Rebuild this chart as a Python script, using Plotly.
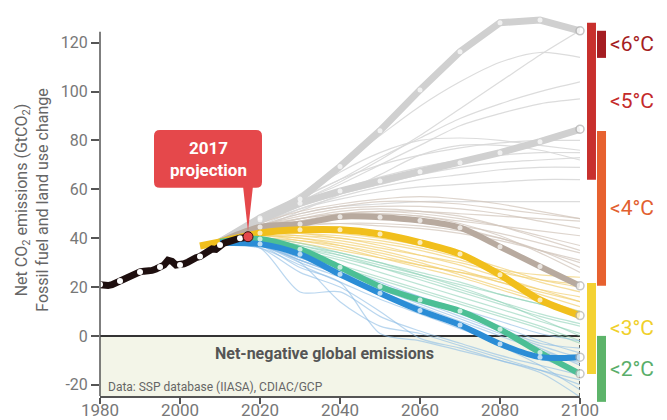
import plotly.graph_objects as go

# ---------------- data ----------------
hist_years = list(range(1980, 2018))
hist_vals = [21.0, 20.7, 20.6, 21.0, 21.8, 22.5, 23.3, 24.0, 25.0, 25.6,
             26.2, 26.5, 26.4, 26.8, 27.4, 28.2, 29.0, 31.0, 30.5, 29.0,
             29.0, 29.5, 30.2, 31.5, 32.0, 32.5, 33.8, 35.0, 35.6, 35.4,
             37.2, 38.0, 38.5, 39.2, 39.6, 40.0, 40.2, 40.6]
hist_dot_years = [1980, 1985, 1990, 1995, 2000, 2005, 2010, 2015]
hist_dot_vals = [21.0, 22.5, 26.2, 28.2, 29.0, 32.5, 37.2, 40.0]
proj_year = 2017
proj_val = 40.6

proj_years = [2005, 2010, 2020, 2030, 2040, 2050, 2060, 2070, 2080, 2090, 2100]
grey_high = [None, 38.5, 48.3, 56.0, 69.3, 84.0, 100.7, 116.3, 128.2, 129.3, 124.9]
grey_mid = [None, 38.5, 47.5, 54.3, 59.3, 63.4, 67.2, 70.9, 75.0, 79.5, 84.6]
taupe = [None, 38.5, 44.6, 45.8, 48.8, 48.6, 47.2, 44.3, 36.5, 28.4, 20.5]
yellow = [36.8, 38.5, 42.1, 43.4, 43.4, 41.7, 38.2, 33.5, 25.0, 14.7, 8.3]
green = [None, 38.5, 39.7, 35.5, 28.1, 20.2, 14.7, 10.2, 2.7, -6.8, -15.5]
blue = [None, 38.0, 37.6, 33.4, 25.2, 17.5, 10.4, 4.5, -3.3, -8.7, -8.7]

thin_years = [2010, 2020, 2030, 2040, 2050, 2060, 2070, 2080, 2090, 2100]
thin_grey = [
    [38, 47, 55, 63, 72, 82, 93, 104, 115, 125],
    [38, 48, 58, 70, 82, 94, 104, 112, 116, 114],
    [38, 47, 56, 64, 73, 81, 89, 95, 100, 104],
    [38, 46, 55, 62, 70, 78, 86, 91, 95, 97],
    [38, 47, 54, 60, 65, 69, 72, 74, 75, 75],
    [38, 46, 53, 58, 62, 66, 69, 71, 72, 73],
    [38, 45, 52, 57, 61, 64, 66, 68, 69, 69],
    [38, 46, 52, 56, 59, 61, 62, 63, 64, 64],
    [38, 45, 50, 53, 54, 55, 55, 55, 55, 55],
    [38, 47, 57, 67, 75, 80, 81, 80, 78, 76],
    [38, 46, 56, 64, 70, 74, 77, 79, 80, 80],
    [38, 44, 51, 58, 66, 74, 78, 78, 76, 72],
]
thin_taupe = [
    [38, 44, 48, 50, 51, 51, 50, 49, 48, 47],
    [38, 45, 49, 52, 53, 53, 52, 50, 47, 44],
    [38, 44, 47, 49, 50, 49, 47, 45, 43, 41],
    [38, 43, 47, 50, 51, 50, 48, 45, 41, 37],
    [38, 45, 50, 53, 55, 55, 54, 52, 50, 48],
    [38, 44, 47, 48, 48, 47, 45, 42, 38, 34],
    [38, 43, 46, 48, 48, 47, 44, 40, 35, 30],
    [38, 44, 48, 51, 52, 51, 49, 45, 40, 35],
    [38, 43, 45, 46, 46, 45, 43, 40, 35, 28],
    [38, 45, 48, 50, 50, 49, 46, 41, 34, 26],
    [38, 44, 46, 46, 45, 44, 42, 39, 35, 31],
    [38, 46, 51, 54, 56, 57, 56, 54, 51, 48],
]
thin_yellow = [
    [38, 42, 42, 41, 39, 36, 32, 27, 22, 18],
    [38, 41, 41, 40, 37, 33, 29, 24, 19, 14],
    [38, 42, 43, 42, 40, 37, 33, 28, 23, 20],
    [38, 41, 40, 38, 35, 31, 27, 22, 17, 12],
    [38, 40, 39, 37, 34, 30, 25, 20, 15, 10],
    [38, 42, 41, 39, 36, 33, 30, 26, 23, 21],
    [38, 41, 39, 36, 32, 28, 24, 19, 14, 9],
    [38, 40, 38, 35, 32, 29, 26, 22, 18, 14],
    [38, 42, 42, 40, 38, 35, 31, 27, 25, 24],
    [38, 41, 40, 37, 33, 29, 26, 23, 19, 16],
]
thin_green = [
    [38, 40, 37, 33, 28, 23, 18, 13, 8, 4],
    [38, 39, 35, 31, 26, 21, 16, 11, 6, 1],
    [38, 40, 38, 34, 30, 26, 22, 17, 13, 9],
    [38, 39, 34, 29, 24, 19, 14, 9, 4, -2],
    [38, 40, 36, 32, 28, 24, 19, 14, 9, 5],
    [38, 39, 36, 33, 29, 25, 21, 17, 13, 10],
    [38, 38, 33, 28, 23, 18, 13, 8, 3, -3],
    [38, 40, 37, 34, 30, 25, 20, 14, 7, 0],
]
thin_blue = [
    [38, 37, 30, 24, 18, 12, 6, 0, -6, -11],
    [38, 38, 32, 26, 20, 14, 8, 2, -4, -9],
    [38, 36, 18, 18, 8, 2, -3, -8, -12, -16],
    [38, 37, 28, 22, 1, -2, -6, -10, -14, -18],
    [38, 38, 33, 28, 22, 16, 10, 4, -2, -7],
    [38, 37, 31, 25, 19, 13, 7, 1, -5, -12],
    [38, 36, 29, 22, 15, 9, 3, -3, -9, -15],
    [38, 37, 30, 14, 4, 1, -4, -9, -14, -20],
    [38, 38, 31, 25, 18, 11, 4, -4, -12, -22],
    [38, 37, 32, 27, 21, 15, 9, 3, -3, -5],
    [38, 36, 26, 20, 10, -1, -5, -10, -15, -25],
    [38, 37, 31, 26, 21, 16, 11, 6, 1, -2],
]

x_tick_vals = [1980, 2000, 2020, 2040, 2060, 2080, 2100]
x_tick_text = ["1980", "2000", "2020", "2040", "2060", "2080", "2100"]
y_tick_vals = [-20, 0, 20, 40, 60, 80, 100, 120]
y_tick_text = ["-20", "0", "20", "40", "60", "80", "100", "120"]

band_labels = ["<6°C", "<5°C", "<4°C", "<3°C", "<2°C"]
band_low = [113.8, 63.9, 20.5, -15.6, -27.0]
band_high = [124.9, 128.2, 83.9, 21.7, 0.0]

# ---------------- styles ----------------
X0, X1 = 1980, 2100
Y0, Y1 = -24.6, 133.4
FONT = "Roboto, 'Liberation Sans', Arial, sans-serif"
band_colors = ["#a51d22", "#c8302d", "#e7612f", "#f4d233", "#5db46a"]
band_label_colors = ["#a51d22", "#c42a2a", "#e2602f", "#f0d02a", "#5aae6a"]
band_column = [1, 0, 1, 0, 1]
col_x = [(1.0146, 1.0333), (1.0354, 1.0542)]

fig = go.Figure()

def add_line(xs, ys, color, width, shape="spline", opacity=1.0):
    fig.add_trace(go.Scatter(x=xs, y=ys, mode="lines",
                             line=dict(color=color, width=width, shape=shape, smoothing=0.8),
                             opacity=opacity, hoverinfo="skip", showlegend=False))

for s in thin_grey:
    add_line(thin_years, s, "#d9d9d9", 1.2, opacity=0.9)
for s in thin_taupe:
    add_line(thin_years, s, "#d3c7bd", 1.2, opacity=0.75)
for s in thin_yellow:
    add_line(thin_years, s, "#f3d173", 1.2, opacity=0.7)
for s in thin_green:
    add_line(thin_years, s, "#8fd3b8", 1.2, opacity=0.6)
for s in thin_blue:
    add_line(thin_years, s, "#8dbde6", 1.2, opacity=0.6)

thick = [
    (grey_high, "#d0d0d0", 7, "linear"),
    (grey_mid, "#d0d0d0", 7, "linear"),
    (taupe, "#b8aa9f", 6, "spline"),
    (yellow, "#f1bf1c", 7, "spline"),
    (green, "#4cbf95", 6, "spline"),
    (blue, "#2b8dd6", 6, "spline"),
]
for vals, col, w, sh in thick:
    add_line(proj_years, vals, col, w, shape=sh)

# markers on thick lines
for vals, col, w, sh in thick:
    xs = proj_years[2:]
    ys = vals[2:]
    sizes = [5] * (len(xs) - 1) + [8]
    lw = [0] * (len(xs) - 1) + [1.5]
    fig.add_trace(go.Scatter(x=xs, y=ys, mode="markers", cliponaxis=False,
                             marker=dict(color="white", size=sizes,
                                         line=dict(color="#b0b0b0", width=lw)),
                             hoverinfo="skip", showlegend=False))

# historical
fig.add_trace(go.Scatter(x=hist_years, y=hist_vals, mode="lines",
                         line=dict(color="#1e0f0f", width=7),
                         hoverinfo="skip", showlegend=False))
fig.add_trace(go.Scatter(x=hist_dot_years, y=hist_dot_vals, mode="markers", cliponaxis=False,
                         marker=dict(color="white", size=6),
                         hoverinfo="skip", showlegend=False))
fig.add_trace(go.Scatter(x=[proj_year], y=[proj_val], mode="markers",
                         marker=dict(color="#e4484b", size=10, line=dict(color="#3a1010", width=1)),
                         hoverinfo="skip", showlegend=False))

shapes = []
# net-negative region
shapes.append(dict(type="rect", xref="x", yref="y", x0=X0, x1=X1, y0=Y0, y1=0,
                   fillcolor="#f3f5e8", line=dict(width=0), layer="below"))
shapes.append(dict(type="line", xref="x", yref="y", x0=X0, x1=X1, y0=0, y1=0,
                   line=dict(color="#333333", width=2), layer="below"))
shapes.append(dict(type="line", xref="x", yref="y", x0=X1, x1=X1, y0=Y0, y1=0,
                   line=dict(color="#333333", width=1.5, dash="dot"), layer="below"))
# y axis line
shapes.append(dict(type="line", xref="paper", yref="y", x0=0, x1=0, y0=Y0, y1=124.5,
                   line=dict(color="#555555", width=1.5)))

# callout box with pointer (data coords)
bx0, bx1, by0, by1 = 1993.5, 2020.5, 60.6, 84.3
rx, ry = 1.5, 2.4
pl, pr, tipx, tipy = 2015.8, 2018.2, 2017.0, 42.8
path = (f"M {bx0+rx},{by1} L {bx1-rx},{by1} Q {bx1},{by1} {bx1},{by1-ry} "
        f"L {bx1},{by0+ry} Q {bx1},{by0} {bx1-rx},{by0} L {pr},{by0} L {tipx},{tipy} "
        f"L {pl},{by0} L {bx0+rx},{by0} Q {bx0},{by0} {bx0},{by0+ry} "
        f"L {bx0},{by1-ry} Q {bx0},{by1} {bx0+rx},{by1} Z")
shapes.append(dict(type="path", xref="x", yref="y", path=path,
                   fillcolor="#e5484b", line=dict(width=0), layer="above"))

# temperature bands
def to_paper(v):
    return (v - Y0) / (Y1 - Y0)

annotations = []
for lab, lo, hi, col, lcol, c in zip(band_labels, band_low, band_high,
                                     band_colors, band_label_colors, band_column):
    xa, xb = col_x[c]
    shapes.append(dict(type="rect", xref="paper", yref="paper", x0=xa, x1=xb,
                       y0=to_paper(lo), y1=to_paper(hi), fillcolor=col, line=dict(width=0)))
    annotations.append(dict(xref="paper", yref="paper", x=1.058, y=to_paper((lo + hi) / 2),
                            text=lab, showarrow=False, xanchor="left", yanchor="middle",
                            font=dict(family=FONT, size=21, color=lcol)))

annotations.append(dict(xref="x", yref="y", x=2007, y=72.5,
                        text="<b>2017<br>projection</b>", showarrow=False,
                        font=dict(family=FONT, size=17, color="white")))
annotations.append(dict(xref="x", yref="y", x=2036.2, y=-7,
                        text="<b>Net-negative global emissions</b>", showarrow=False,
                        font=dict(family=FONT, size=16, color="#555555")))
annotations.append(dict(xref="x", yref="y", x=1981.5, y=-21,
                        text="Data: SSP database (IIASA), CDIAC/GCP", showarrow=False,
                        xanchor="left", font=dict(family=FONT, size=12, color="#666666")))
annotations.append(dict(xref="paper", yref="paper", x=-0.142, y=0.508,
                        text="Net CO<sub>2</sub> emissions (GtCO<sub>2</sub>)<br>Fossil fuel and land use change",
                        showarrow=False, textangle=-90, xanchor="center", yanchor="middle",
                        font=dict(family=FONT, size=16, color="#666666")))

# the page body adds an 8px offset; size the figure so the plot lands where the reference has it
fig.update_layout(
    width=659, height=412,
    margin=dict(l=92, r=87, t=2, b=24),
    paper_bgcolor="white", plot_bgcolor="white",
    showlegend=False,
    shapes=shapes, annotations=annotations,
    xaxis=dict(range=[X0, X1], tickvals=x_tick_vals, ticktext=x_tick_text,
               ticks="outside", ticklen=6, tickcolor="#555555", tickwidth=1.5,
               ticklabelstandoff=-8,
               showline=True, linecolor="#555555", linewidth=1.5,
               showgrid=False, zeroline=False, automargin=False,
               tickfont=dict(family=FONT, size=17, color="#777777")),
    yaxis=dict(range=[Y0, Y1], tickvals=y_tick_vals, ticktext=y_tick_text,
               ticks="outside", ticklen=8, tickcolor="#555555", tickwidth=1.5,
               showline=False, showgrid=False, zeroline=False, automargin=False,
               tickfont=dict(family=FONT, size=16, color="#777777")),
)

fig.write_html("out.html")
